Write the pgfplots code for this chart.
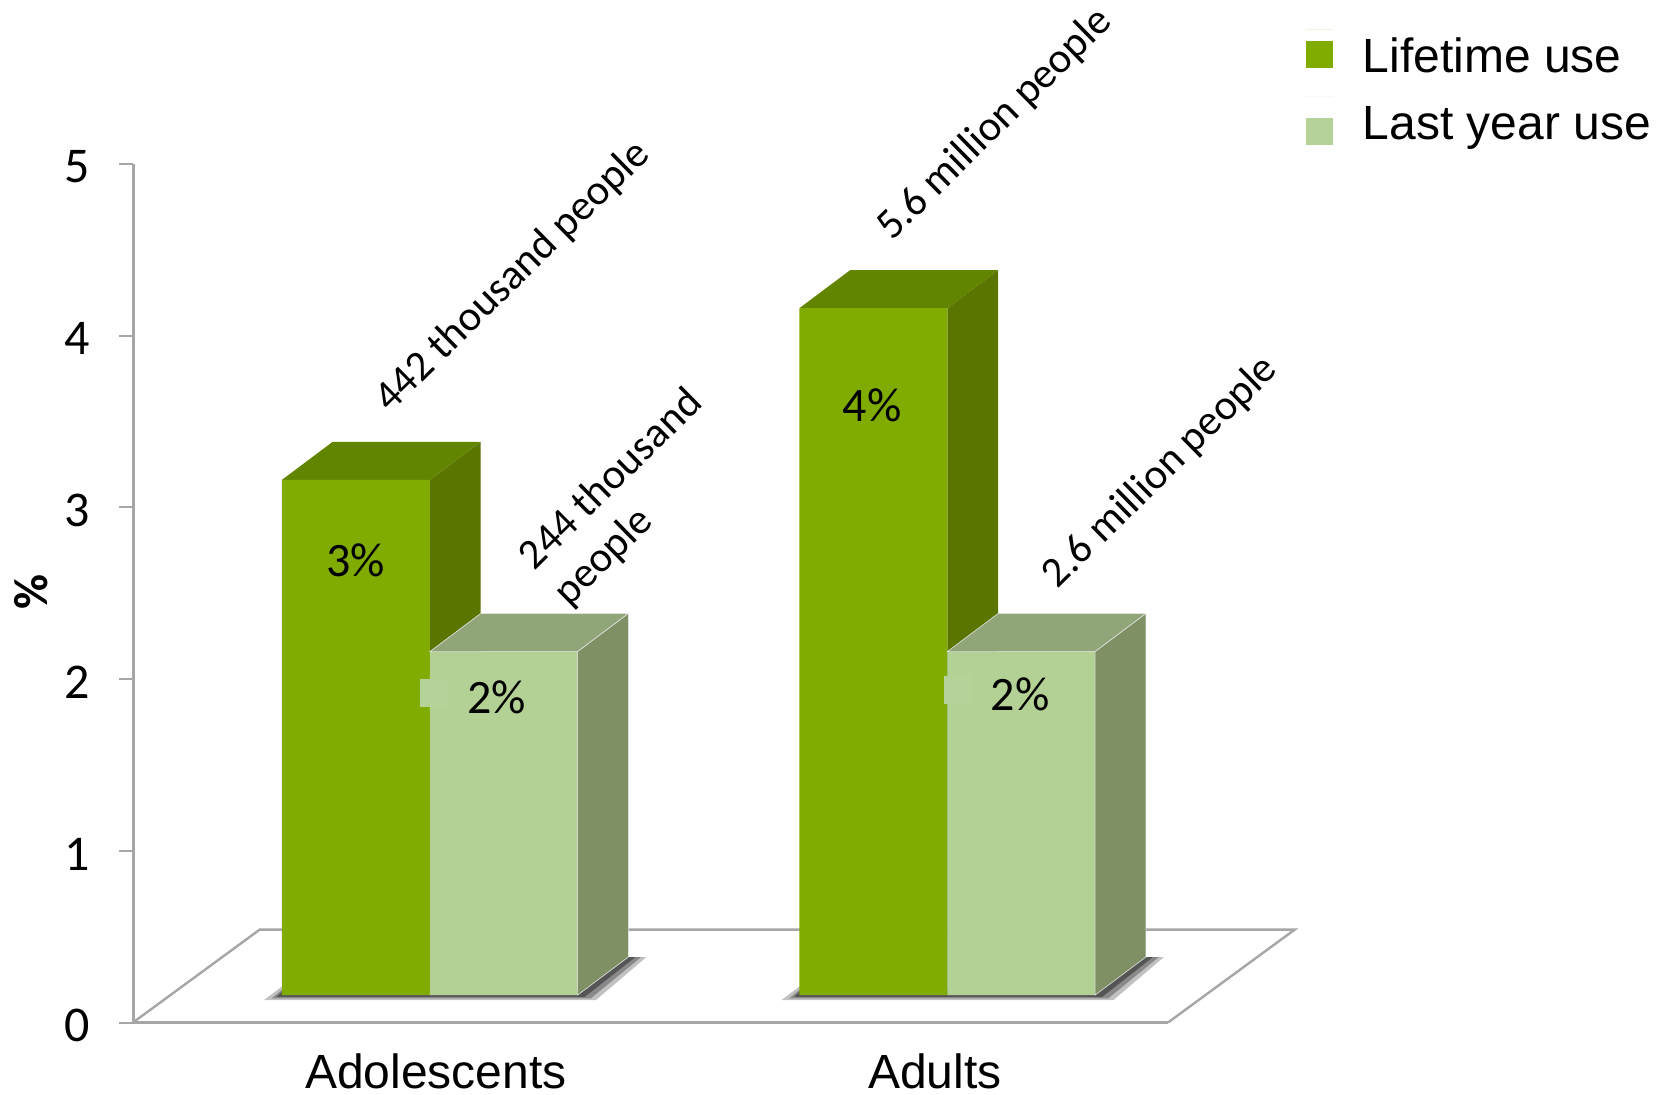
\documentclass[border=0pt]{standalone}
\usepackage{fontspec}
\setmainfont{Carlito}
\newfontfamily\arial{Liberation Sans}
\usepackage{pgfplots}
\pgfplotsset{compat=1.18}

\definecolor{gFront}{HTML}{80AB00}
\definecolor{gSide}{HTML}{5A7500}
\definecolor{gTop}{HTML}{628500}
\definecolor{lFront}{HTML}{B3D095}
\definecolor{lSide}{HTML}{7E9064}
\definecolor{lTop}{HTML}{91A678}
\definecolor{lKey}{HTML}{B5D298}
\definecolor{axisgrey}{HTML}{A6A6A6}

% front edge of the bars sits above the floor's front edge
\pgfplotsset{
  lifted/.style={yshift=13.73pt, forget plot},
  face/.style={lifted, fill=#1, draw=none},
  pale/.style={lifted, fill=#1, draw=black!10, line width=.3pt},
  shadow/.style={lifted, fill=black!80, draw=none, opacity=#1},
}
\newcommand{\lab}{\fontsize{21.3}{25}\selectfont}

\begin{document}
\begin{tikzpicture}
\path[use as bounding box] (0,0) rectangle (828pt,547pt);
\begin{axis}[
    at={(66.5pt,35.75pt)}, anchor=south west,
    scale only axis, width=517.5pt, height=429.3pt,
    clip=false,
    xmin=0.4265, xmax=2.4265, ymin=0, ymax=5,
    axis x line=bottom, axis y line=left,
    axis line style={-, draw=axisgrey, line width=1.5pt},
    xtick={1.012,1.976}, xticklabels={Adolescents,Adults},
    ytick={0,1,2,3,4,5},
    xtick style={draw=none},
    ytick style={draw=axisgrey, line width=1pt},
    tick align=outside, major tick length=7pt,
    /pgf/number format/assume math mode=true,
    yticklabel style={font=\fontsize{25}{25}\selectfont, xshift=-11pt, yshift=-1.6pt},
    xticklabel style={font=\arial\fontsize{24}{24}\selectfont, yshift=-5pt},
    ylabel={\bfseries\%},
    every axis y label/.style={at={(axis cs:0.2306,2.509)}, rotate=90, anchor=center, font=\fontsize{24}{24}\selectfont},
    legend style={at={(axis cs:2.692,5.786)}, anchor=north west, draw=none, fill=none,
      inner sep=0pt, row sep=10.5pt, font=\arial\fontsize{24}{24}\selectfont,
      nodes={inner sep=0pt}},
    legend cell align=left,
  ]

% floor
\addplot[draw=axisgrey, line width=1.2pt, forget plot]
  coordinates {(0.4265,0) (0.6714,0.541) (2.6714,0.541) (2.4265,0)};

% shadows, three layers each
\addplot[shadow=.3] coordinates {(0.6793,-0.03) (1.3207,-0.03) (1.4187,0.2214) (1.3837,0.2214) (1.2857,0.05) (0.7143,0.05)} -- cycle;
\addplot[shadow=.4] coordinates {(0.6943,-0.02) (1.3107,-0.02) (1.4087,0.2214) (1.3837,0.2214) (1.2857,0.03) (0.7143,0.03)} -- cycle;
\addplot[shadow=.6] coordinates {(0.7043,-0.01) (1.2997,-0.01) (1.3977,0.2214) (1.3837,0.2214) (1.2857,0.02) (0.7143,0.02)} -- cycle;
\addplot[shadow=.3] coordinates {(1.6793,-0.03) (2.3207,-0.03) (2.4187,0.2214) (2.3837,0.2214) (2.2857,0.05) (1.7143,0.05)} -- cycle;
\addplot[shadow=.4] coordinates {(1.6943,-0.02) (2.3107,-0.02) (2.4087,0.2214) (2.3837,0.2214) (2.2857,0.03) (1.7143,0.03)} -- cycle;
\addplot[shadow=.6] coordinates {(1.7043,-0.01) (2.2997,-0.01) (2.3977,0.2214) (2.3837,0.2214) (2.2857,0.02) (1.7143,0.02)} -- cycle;

% lifetime use: side and top faces
\addplot[face=gSide] coordinates {(1,0) (1.098,0.2214) (1.098,3.2214) (1,3)} -- cycle;
\addplot[face=gTop] coordinates {(0.7143,3) (1,3) (1.098,3.2214) (0.8123,3.2214)} -- cycle;
\addplot[face=gSide] coordinates {(2,0) (2.098,0.2214) (2.098,4.2214) (2,4)} -- cycle;
\addplot[face=gTop] coordinates {(1.7143,4) (2,4) (2.098,4.2214) (1.8123,4.2214)} -- cycle;

\addplot[ybar, bar width=0.2857, bar shift=-0.14285, yshift=13.73pt, fill=gFront, draw=none,
    legend image code/.code={\path (0pt,0pt) -- (13.5pt,0pt); \fill[gFront,overlay] (0pt,-19.15pt) rectangle (13.5pt,-5.65pt);}]
  coordinates {(1,3) (2,4)};
\addlegendentry{\hspace{15pt}Lifetime use}

% last year use
\addplot[ybar, bar width=0.2857, bar shift=0.14285, yshift=13.73pt, fill=lFront, draw=none,
    legend image code/.code={\path (0pt,0pt) -- (13.5pt,0pt); \fill[lKey,overlay] (0pt,-24.1pt) rectangle (13.5pt,-10.6pt);}]
  coordinates {(1,2) (2,2)};
\addlegendentry{\hspace{15pt}Last year use}

\addplot[pale=lTop] coordinates {(1,2) (1.2857,2) (1.3837,2.2214) (1.098,2.2214)} -- cycle;
\addplot[pale=lSide] coordinates {(1.2857,0) (1.3837,0.2214) (1.3837,2.2214) (1.2857,2)} -- cycle;
\addplot[pale=lTop] coordinates {(2,2) (2.2857,2) (2.3837,2.2214) (2.098,2.2214)} -- cycle;
\addplot[pale=lSide] coordinates {(2.2857,0) (2.3837,0.2214) (2.3837,2.2214) (2.2857,2)} -- cycle;

% small key squares left in the data labels
\addplot[only marks, draw=lKey, mark=square*, mark size=6.75pt, mark options={solid, fill=lKey, draw=lKey, line width=0pt}, forget plot]
  coordinates {(1.009,1.92) (2.0214,1.934)};

% data labels
\node[font=\fontsize{24}{24}\selectfont] at (axis cs:0.857,2.693) {3\%};
\node[font=\fontsize{24}{24}\selectfont] at (axis cs:1.129,1.894) {2\%};
\node[font=\fontsize{24}{24}\selectfont] at (axis cs:1.855,3.592) {4\%};
\node[font=\fontsize{24}{24}\selectfont] at (axis cs:2.141,1.913) {2\%};

\node[font=\lab, rotate=44.5] at (axis cs:1.161,4.342) {442 thousand people};
\node[font=\lab, rotate=44.5, align=left] at (axis cs:1.385,3.053) {244 thousand\\people};
\node[font=\lab, rotate=44.5] at (axis cs:2.092,5.228) {5.6 million people};
\node[font=\lab, rotate=44.5] at (axis cs:2.412,3.204) {2.6 million people};
\end{axis}
\end{tikzpicture}
\end{document}
